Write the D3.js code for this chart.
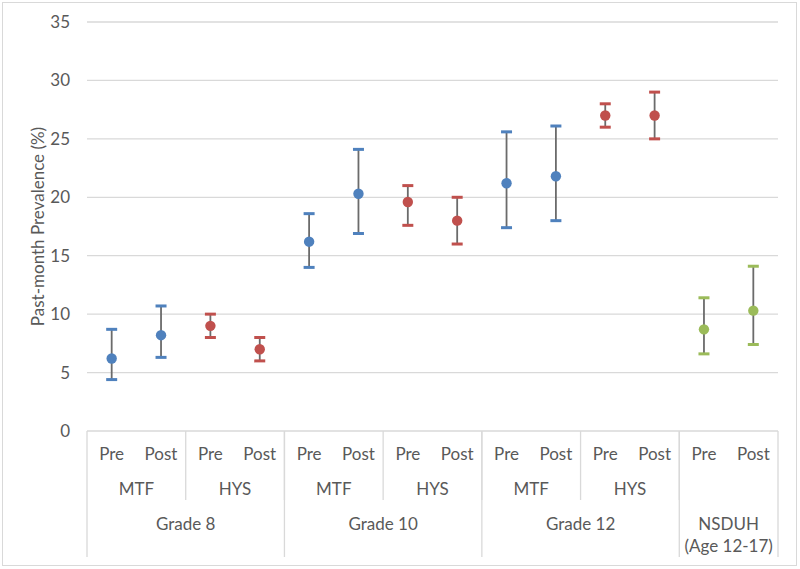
<!DOCTYPE html>
<html>
<head>
<meta charset="utf-8">
<script src="https://cdn.jsdelivr.net/npm/d3@7"></script>
<style>
  body { margin: 0; background: #fff; }
  text { font-family: Lato, "Open Sans", "DejaVu Sans", sans-serif; }
</style>
</head>
<body>
<svg id="chart" width="800" height="569"></svg>
<script>
// ---- Data ----
const timepoints = ["Pre","Post","Pre","Post","Pre","Post","Pre","Post","Pre","Post","Pre","Post","Pre","Post"];
const surveys = ["MTF","HYS","MTF","HYS","MTF","HYS",""];
const groups = ["Grade 8","Grade 10","Grade 12","NSDUH\n(Age 12-17)"];
const groupSizes = [4,4,4,2];
const seriesKey = ["MTF","MTF","HYS","HYS","MTF","MTF","HYS","HYS","MTF","MTF","HYS","HYS","NSDUH","NSDUH"];
const values = [6.2, 8.2, 9.0, 7.0, 16.2, 20.3, 19.6, 18.0, 21.2, 21.8, 27.0, 27.0, 8.7, 10.3];
const lower  = [4.4, 6.3, 8.0, 6.0, 14.0, 16.9, 17.6, 16.0, 17.4, 18.0, 26.0, 25.0, 6.6, 7.4];
const upper  = [8.7, 10.7, 10.0, 8.0, 18.6, 24.1, 21.0, 20.0, 25.6, 26.1, 28.0, 29.0, 11.4, 14.1];
const yTicks = [0,5,10,15,20,25,30,35];
const yLabel = "Past-month Prevalence (%)";

const colors = { MTF: "#4F81BD", HYS: "#C0504D", NSDUH: "#9BBB59" };

// ---- Layout ----
const svg = d3.select("#chart");
const pLeft = 87, pRight = 778, pTop = 22, pBottom = 431;
const gridColor = "#D9D9D9", textColor = "#595959";
const fs = "17px";

svg.append("rect").attr("x", 2.5).attr("y", 2.5).attr("width", 794).attr("height", 563)
  .attr("fill", "#fff").attr("stroke", gridColor).attr("stroke-width", 1);

const idx = d3.range(values.length);
const x = d3.scaleBand().domain(idx).range([pLeft, pRight]).padding(0);
const y = d3.scaleLinear().domain([0, 35]).range([pBottom, pTop]);

// gridlines
svg.append("g").selectAll("line").data(yTicks.filter(t => t > 0)).join("line")
  .attr("x1", pLeft).attr("x2", pRight)
  .attr("y1", d => y(d)).attr("y2", d => y(d))
  .attr("stroke", gridColor).attr("stroke-width", 1.3);

// y axis labels
const yAxis = d3.axisLeft(y).tickValues(yTicks).tickSize(0).tickPadding(17);
const gy = svg.append("g").attr("transform", `translate(${pLeft},0)`).call(yAxis);
gy.select(".domain").remove();
gy.selectAll("text").attr("fill", textColor).style("font-size", fs)
  .style("font-family", "Lato, 'Open Sans', sans-serif");

svg.append("text")
  .attr("transform", `translate(44,${(pTop + pBottom) / 2}) rotate(-90)`)
  .attr("text-anchor", "middle").attr("fill", textColor)
  .style("font-size", "17px").text(yLabel);

// x axis table
const bw = x.bandwidth();
const ax = svg.append("g");
ax.append("line").attr("x1", pLeft).attr("x2", pRight).attr("y1", pBottom).attr("y2", pBottom)
  .attr("stroke", gridColor).attr("stroke-width", 1.3);

// level 1 labels
ax.selectAll("text.l1").data(timepoints).join("text").attr("class", "l1")
  .attr("x", (d, i) => x(i) + bw / 2).attr("y", 460)
  .attr("text-anchor", "middle").attr("fill", textColor).style("font-size", fs).text(d => d);

// level 2 labels (each survey = 2 categories)
surveys.forEach((s, k) => {
  const x0 = x(k * 2), x1 = x(k * 2) + 2 * bw;
  if (s) {
    ax.append("text").attr("x", (x0 + x1) / 2).attr("y", 495)
      .attr("text-anchor", "middle").attr("fill", textColor).style("font-size", fs).text(s);
  }
});
// level 2 separators
for (let k = 1; k < surveys.length; k++) {
  const xs = x(k * 2);
  ax.append("line").attr("x1", xs).attr("x2", xs).attr("y1", pBottom).attr("y2", 500)
    .attr("stroke", gridColor).attr("stroke-width", 1.3);
}
// group separators & labels
let start = 0;
const bounds = [0];
groupSizes.forEach(n => { start += n; bounds.push(start); });
bounds.forEach(b => {
  const xs = b < values.length ? x(b) : pRight;
  ax.append("line").attr("x1", xs).attr("x2", xs).attr("y1", pBottom).attr("y2", 557)
    .attr("stroke", gridColor).attr("stroke-width", 1.3);
});
groups.forEach((g, k) => {
  const x0 = x(bounds[k]);
  const x1 = bounds[k + 1] < values.length ? x(bounds[k + 1]) : pRight;
  const t = ax.append("text").attr("x", (x0 + x1) / 2).attr("y", 530)
    .attr("text-anchor", "middle").attr("fill", textColor).style("font-size", fs);
  g.split("\n").forEach((line, j) => {
    t.append("tspan").attr("x", (x0 + x1) / 2).attr("dy", j === 0 ? 0 : 22).text(line);
  });
});

// error bars
const eb = svg.append("g");
eb.selectAll("line.stem").data(idx).join("line").attr("class", "stem")
  .attr("x1", i => x(i) + bw / 2).attr("x2", i => x(i) + bw / 2)
  .attr("y1", i => y(lower[i])).attr("y2", i => y(upper[i]))
  .attr("stroke", "#6b6b6b").attr("stroke-width", 1.8);
["lo", "hi"].forEach(k => {
  eb.selectAll("line.cap" + k).data(idx).join("line").attr("class", "cap" + k)
    .attr("x1", i => x(i) + bw / 2 - 5.5).attr("x2", i => x(i) + bw / 2 + 5.5)
    .attr("y1", i => y(k === "lo" ? lower[i] : upper[i]))
    .attr("y2", i => y(k === "lo" ? lower[i] : upper[i]))
    .attr("stroke", i => colors[seriesKey[i]]).attr("stroke-width", 3);
});

// markers
svg.append("g").selectAll("circle").data(idx).join("circle")
  .attr("cx", i => x(i) + bw / 2).attr("cy", i => y(values[i])).attr("r", 5.2)
  .attr("fill", i => colors[seriesKey[i]]);
</script>
</body>
</html>
